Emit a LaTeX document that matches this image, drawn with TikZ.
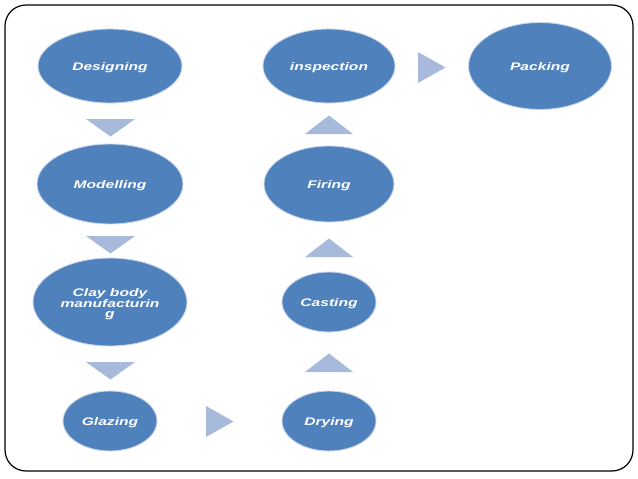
\documentclass[tikz,border=0pt]{standalone}
\usepackage{fontspec}
\newfontfamily\lbl[FakeStretch=1.42]{Liberation Sans}
\usetikzlibrary{shapes.geometric}
\definecolor{nodeblue}{HTML}{4F81BD}
\definecolor{triblue}{HTML}{A7BADB}
\definecolor{rimblue}{HTML}{C9D5EA}
\tikzset{
  stagefont/.style={text=white, font=\lbl\bfseries\itshape\fontsize{11}{10.5}\selectfont},
  stage/.style={ellipse, fill=nodeblue, draw=rimblue, line width=0.9pt, inner sep=0pt,
    stagefont, text height=8pt, text depth=0pt},
  stagetext/.style={stagefont, align=center, inner sep=0pt},
  tri/.style={fill=triblue}
}
\begin{document}
\begin{tikzpicture}[x=1pt,y=-1pt]
\useasboundingbox (0,0) rectangle (638,479);
\draw[line width=1.2pt, rounded corners=21pt] (5,5) rectangle (633,471);

\node[stage, minimum width=144pt, minimum height=74pt] (des) at (110,66) {Designing};
\node[stage, minimum width=146pt, minimum height=80pt] (mod) at (110,184) {Modelling};
\node[stage, minimum width=154pt, minimum height=88pt] (clay) at (110,302) {};
\node[stagetext] (clayT) at (110,304.5) {Clay body\\manufacturin\\g};
\node[stage, minimum width=94pt, minimum height=60pt] (gla) at (110,421) {Glazing};
\node[stage, minimum width=94pt, minimum height=60pt] (dry) at (329,421) {Drying};
\node[stage, minimum width=94pt, minimum height=60pt] (cas) at (329,302) {Casting};
\node[stage, minimum width=130pt, minimum height=76pt] (fir) at (329,184) {Firing};
\node[stage, minimum width=132pt, minimum height=74pt] (ins) at (329,66) {inspection};
\node[stage, minimum width=143pt, minimum height=87pt] (pac) at (540,66) {Packing};

% down arrows (left column)
\coordinate (d1) at (110.5,119);
\coordinate (d2) at (110.5,236);
\coordinate (d3) at (110.5,362);
\foreach \c in {d1,d2,d3}
  \fill[tri] (\c) ++(-24.5,0) -- ++(49,0) -- ++(-24.5,17.5) -- cycle;

% up arrows (middle column)
\coordinate (u1) at (329,134);
\coordinate (u2) at (329,257);
\coordinate (u3) at (329,372);
\foreach \c in {u1,u2,u3}
  \fill[tri] (\c) ++(-24,0) -- ++(48,0) -- ++(-24,-18.5) -- cycle;

% right arrows
\coordinate (r1) at (206,406);
\coordinate (r2) at (418,52);
\foreach \c in {r1,r2}
  \fill[tri] (\c) -- ++(0,31) -- ++(27.5,-15.5) -- cycle;
\end{tikzpicture}
\end{document}
